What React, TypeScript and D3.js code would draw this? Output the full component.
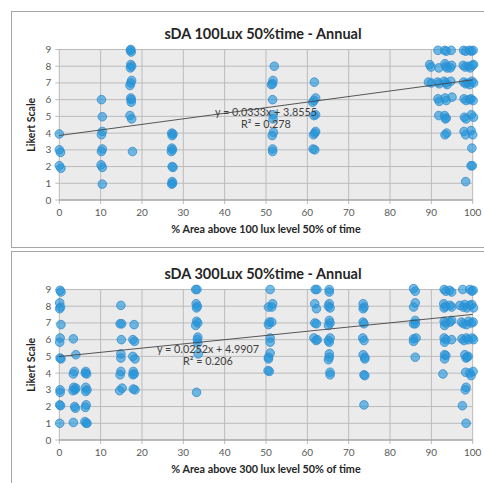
import React from "react";
import * as d3 from "d3";

// ---- data ----
const xTicks = [0, 10, 20, 30, 40, 50, 60, 70, 80, 90, 100];
const yTicks = [0, 1, 2, 3, 4, 5, 6, 7, 8, 9];

// [percent area, likert]
const points100: [number, number][] = [
  [0, 3.95], [0, 3.0], [0.3, 2.85], [0, 2.05], [0.4, 1.9],
  [10.2, 6.0], [10.4, 4.98], [10.4, 4.1], [10.2, 3.9], [10.4, 3.05], [10.2, 2.9], [10.1, 2.1], [10.4, 1.95], [10.4, 0.95],
  [17.2, 8.95], [17.4, 8.85], [17.3, 9.0], [17.3, 8.1], [17.5, 8.0], [17.2, 7.9], [17.5, 7.15], [17.3, 7.0], [17.1, 6.85],
  [17.3, 6.1], [17.4, 6.0], [17.4, 5.85], [17.1, 5.05], [17.5, 4.85], [17.7, 2.9],
  [27.2, 4.0], [27.5, 3.95], [27.3, 3.85], [27.2, 3.1], [27.4, 3.0], [27.1, 2.9], [27.3, 2.0], [27.5, 1.95], [27.3, 1.1], [27.2, 0.95], [27.4, 1.0],
  [52, 8.0], [51.7, 7.15], [51.3, 6.9], [51.6, 6.95], [51.6, 6.0], [51.7, 5.1], [51.7, 4.85], [51.8, 4.05], [51.5, 3.85], [51.6, 3.05], [51.6, 2.9],
  [61.7, 7.05], [62, 6.1], [61.6, 5.95], [61.3, 5.85], [61.6, 5.05], [62, 5.1], [62, 4.1], [61.5, 3.9], [61.8, 4.0], [61.4, 3.05], [61.8, 3.0],
  [89.6, 8.1], [89.9, 7.95], [89.3, 7.05], [90.0, 7.0],
  [91.6, 8.95], [91.8, 7.9], [91.5, 7.05], [91.9, 6.95], [91.6, 6.05], [91.9, 5.9], [91.8, 5.05],
  [93.2, 8.95], [93.6, 8.9], [93.3, 8.15], [93.5, 8.0], [93.8, 7.9], [93.1, 7.1], [93.5, 7.0], [93.8, 6.9], [93.3, 6.1], [93.6, 5.95],
  [93.2, 5.05], [93.6, 4.9], [93.4, 4.85], [93.7, 4.0], [93.3, 3.9],
  [94.8, 8.95], [94.9, 8.05], [94.6, 7.9], [94.7, 7.1], [95.0, 6.15],
  [97.8, 8.95], [98.3, 8.9], [99.2, 8.95], [99.7, 8.9], [100.1, 8.95],
  [97.7, 8.05], [98.2, 7.95], [98.9, 8.0], [99.4, 7.9], [99.9, 8.05], [100.2, 8.1],
  [97.8, 7.05], [98.3, 6.95], [98.8, 7.0], [99.3, 6.9], [99.8, 7.1], [100.2, 7.0],
  [97.9, 6.05], [98.4, 5.95], [99.2, 6.0], [99.6, 6.05], [100.1, 5.95],
  [98.0, 4.95], [98.4, 4.85], [99.7, 5.1], [100.2, 4.95],
  [97.9, 4.1], [98.3, 3.9], [99.6, 4.15], [100.0, 3.9],
  [99.8, 3.1], [99.6, 2.05], [99.9, 2.05], [98.3, 1.1],
];

const points300: [number, number][] = [
  [0.2, 8.95], [0.4, 8.85], [0.1, 8.2], [0.3, 7.95], [0.1, 7.85], [0.4, 6.9], [0.2, 6.1], [0.1, 5.85], [0.2, 4.9], [0.4, 4.85],
  [0.2, 3.0], [0.2, 2.85], [0.1, 2.1], [0.3, 2.05], [0.1, 1.0],
  [3.4, 6.05], [4.0, 5.1], [3.6, 4.1], [3.4, 3.95], [3.5, 3.15], [4.0, 3.1], [3.3, 2.95], [3.8, 3.0], [3.7, 2.0], [3.9, 1.9], [3.4, 1.05],
  [6.4, 4.1], [6.6, 3.95], [6.3, 4.0], [6.4, 3.15], [6.7, 3.0], [6.4, 2.9], [6.5, 2.1], [6.3, 1.95], [6.2, 1.1], [6.5, 1.0], [6.7, 1.0],
  [14.9, 8.05], [14.7, 6.95], [15.1, 6.95], [15.0, 6.0], [14.9, 5.15], [14.9, 4.9], [14.9, 4.1], [14.7, 3.9], [15.2, 3.1], [14.6, 2.95],
  [18.1, 6.9], [17.8, 6.0], [18.2, 5.9], [17.8, 5.0], [18.3, 4.85], [17.9, 4.1], [18.1, 3.95], [17.8, 3.9], [17.9, 3.05], [18.3, 3.0],
  [33.0, 9.0], [33.3, 9.0], [33.1, 8.15], [33.4, 8.0], [33.2, 7.9], [33.2, 7.1], [33.5, 7.0], [33.0, 6.85], [33.5, 6.15], [33.4, 6.0],
  [33.5, 5.8], [33.6, 5.15], [33.2, 2.85],
  [51.0, 9.0], [51.6, 8.15], [50.6, 7.95], [51.4, 7.95], [50.8, 7.05], [51.4, 7.05], [50.6, 6.9], [51.0, 6.1], [51.0, 5.85], [51.0, 5.2],
  [50.6, 4.95], [50.6, 4.85], [50.5, 4.15], [50.8, 4.1],
  [61.9, 9.0], [62.3, 9.0], [61.8, 8.15], [62.2, 7.85], [61.8, 7.0], [62.2, 6.95], [61.6, 6.1], [62.1, 5.95], [62.4, 6.0],
  [65.3, 9.0], [65.3, 8.85], [65.3, 8.15], [65.1, 8.0], [65.5, 7.9], [65.3, 7.15], [65.5, 7.0], [65.1, 6.85], [65.5, 6.1], [65.1, 5.95],
  [65.3, 5.85], [65.3, 5.15], [65.3, 4.95], [65.1, 4.8], [65.5, 4.05], [65.5, 3.9],
  [73.5, 8.15], [73.7, 7.95], [73.5, 7.85], [73.5, 7.05], [73.7, 6.95], [73.4, 6.1], [73.7, 5.95], [73.5, 5.1], [73.9, 4.95], [73.9, 4.85],
  [73.7, 3.9], [73.9, 3.85], [73.7, 2.1],
  [85.7, 9.05], [86.1, 8.9], [86.1, 8.2], [85.7, 7.95], [86.1, 7.15], [85.7, 6.95], [86.1, 6.95], [85.7, 6.05], [86.3, 6.1], [85.7, 5.9], [86.1, 4.95],
  [93.1, 9.0], [93.5, 8.9], [94.4, 8.95], [94.9, 8.85],
  [93.0, 8.15], [93.4, 8.0], [93.1, 7.9], [94.5, 8.05], [94.9, 7.95],
  [93.1, 7.1], [93.5, 7.0], [93.2, 6.85], [94.5, 7.05], [94.9, 7.15],
  [93.1, 6.1], [93.5, 6.0], [93.2, 5.85], [94.9, 6.0],
  [93.2, 5.1], [93.5, 5.05], [93.2, 4.85], [92.8, 3.95],
  [97.6, 9.0], [99.3, 9.0], [99.8, 8.9], [100.1, 8.95],
  [96.9, 8.05], [97.7, 7.95], [98.1, 8.1], [98.6, 7.9], [99.3, 8.05], [99.8, 8.1], [100.2, 7.9],
  [97.3, 7.05], [97.8, 6.95], [98.5, 6.9], [99.0, 7.1], [99.7, 7.0], [100.1, 7.05],
  [97.4, 6.05], [97.9, 5.95], [98.5, 6.1], [98.9, 6.0], [99.9, 6.1], [100.2, 6.0],
  [98.1, 5.1], [98.6, 4.95], [98.9, 5.0], [98.4, 4.9],
  [98.3, 4.05], [99.3, 4.0], [99.6, 3.85], [100.1, 4.1],
  [98.4, 3.15], [98.2, 3.0], [97.5, 2.05], [98.4, 1.0],
];

const trend100 = { slope: 0.0333, intercept: 3.8555, r2: "0.278" };
const trend300 = { slope: 0.0252, intercept: 4.9907, r2: "0.206" };

const FONT = "Lato, 'Open Sans', sans-serif";
const GRID = "#bbbbbb";
const TXT = "#595959";

type PanelProps = {
  top: number;
  title: string;
  xLabel: string;
  points: [number, number][];
  trend: { slope: number; intercept: number; r2: string };
  eqPos: [number, number];
  r2Pos: [number, number];
};

const Panel = ({ top, title, xLabel, points, trend, eqPos, r2Pos }: PanelProps) => {
  const x = d3.scaleLinear().domain([0, 100]).range([59.3, 472.7]);
  const y = d3.scaleLinear().domain([0, 9]).range([top + 189, top + 38.5]);
  const line = d3
    .line<number>()
    .x((d) => x(d))
    .y((d) => y(trend.slope * d + trend.intercept));

  return (
    <g>
      {/* chart frame */}
      <rect x={11.5} y={top + 0.5} width={490} height={236} fill="#fff" stroke="#a6a6a6" />
      {/* plot area */}
      <rect x={x(0)} y={y(9)} width={x(100) - x(0)} height={y(0) - y(9)} fill="#ebebeb" />
      {yTicks.map((t) => (
        <line key={"h" + t} x1={x(0) - 4} x2={x(100)} y1={y(t)} y2={y(t)} stroke={GRID} />
      ))}
      {xTicks.map((t) => (
        <line key={"v" + t} x1={x(t)} x2={x(t)} y1={y(9)} y2={y(0) + 4} stroke={GRID} />
      ))}
      <line x1={x(0)} x2={x(100)} y1={y(0)} y2={y(0)} stroke="#9a9a9a" />
      {yTicks.map((t) => (
        <text key={"yt" + t} x={x(0) - 8} y={y(t)} dy="0.35em" textAnchor="end" fontSize={10} fill={TXT} fontFamily={FONT}>
          {t}
        </text>
      ))}
      {xTicks.map((t) => (
        <text key={"xt" + t} x={x(t)} y={y(0) + 16} textAnchor="middle" fontSize={10} fill={TXT} fontFamily={FONT}>
          {t}
        </text>
      ))}
      <text x={263} y={top + 28} textAnchor="middle" fontSize={14.5} fontWeight="bold" fill="#262626" fontFamily={FONT}>
        {title}
      </text>
      <text x={266} y={y(0) + 33} textAnchor="middle" fontSize={10.8} fontWeight="bold" fill="#262626" fontFamily={FONT}>
        {xLabel}
      </text>
      <text
        transform={`translate(35, ${(y(0) + y(9)) / 2}) rotate(-90)`}
        textAnchor="middle"
        fontSize={10.5}
        fontWeight="bold"
        fill="#262626"
        fontFamily={FONT}
      >
        Likert Scale
      </text>
      {/* markers */}
      {points.map((p, i) => (
        <circle
          key={i}
          cx={x(p[0])}
          cy={y(p[1])}
          r={4.3}
          fill="#1e96dc"
          fillOpacity={0.62}
          stroke="#3a8ccc"
          strokeOpacity={0.8}
          strokeWidth={1}
        />
      ))}
      {/* linear trendline */}
      <path d={line([0, 100]) || ""} fill="none" stroke="#444" strokeWidth={0.9} />
      <text x={eqPos[0]} y={eqPos[1]} dy="0.35em" textAnchor="middle" fontSize={10.8} fill="#404040" fontFamily={FONT}>
        {`y = ${trend.slope}x + ${trend.intercept}`}
      </text>
      <text x={r2Pos[0]} y={r2Pos[1]} dy="0.35em" textAnchor="middle" fontSize={10.8} fill="#404040" fontFamily={FONT}>
        {`R² = ${trend.r2}`}
      </text>
    </g>
  );
};

export default function App() {
  return (
    <svg width={484} height={483} style={{ position: "absolute", left: 0, top: 0, background: "#fff" }}>
      <Panel
        top={11}
        title="sDA 100Lux 50%time - Annual"
        xLabel="% Area above 100 lux level 50% of time"
        points={points100}
        trend={trend100}
        eqPos={[266, 112]}
        r2Pos={[266, 124]}
      />
      <Panel
        top={251}
        title="sDA 300Lux 50%time - Annual"
        xLabel="% Area above 300 lux level 50% of time"
        points={points300}
        trend={trend300}
        eqPos={[208, 349]}
        r2Pos={[208, 361]}
      />
    </svg>
  );
}
